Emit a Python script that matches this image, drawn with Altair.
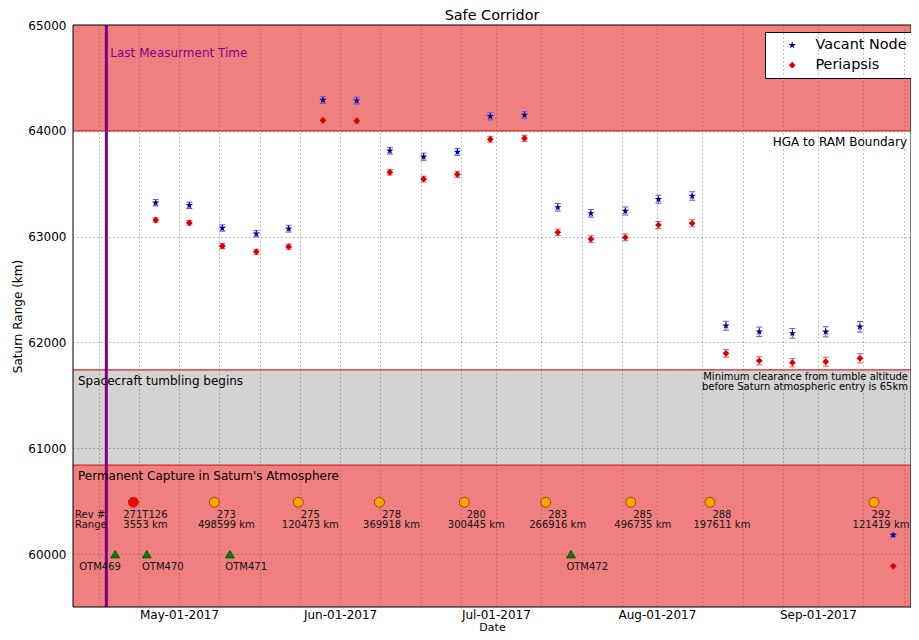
import altair as alt
import pandas as pd

W, H = 838, 582
FONT = "DejaVu Sans"
STAR = ("M0,-1L0.2245,-0.309L0.9511,-0.309L0.3633,0.118L0.5878,0.809L0,0.382"
        "L-0.5878,0.809L-0.3633,0.118L-0.9511,-0.309L-0.2245,-0.309Z")

# ---------------- data ----------------
x_start = "2017-04-10T14:00"
x_end = "2017-09-18T22:00"
last_measurement = "2017-04-17T00:00"

pass_dates = ["2017-04-26T12:00", "2017-05-02T23:30", "2017-05-09T08:00", "2017-05-15T21:00",
              "2017-05-22T02:30", "2017-05-28T17:00", "2017-06-04T05:00", "2017-06-10T14:00",
              "2017-06-17T02:00", "2017-06-23T14:00", "2017-06-29T22:00", "2017-07-06T12:00",
              "2017-07-12T22:00", "2017-07-19T07:00", "2017-07-25T22:00", "2017-08-01T07:00",
              "2017-08-07T19:00", "2017-08-14T07:00", "2017-08-20T17:00", "2017-08-27T02:00",
              "2017-09-02T12:00", "2017-09-09T02:00", "2017-09-15T12:00"]
vacant_node = [63320, 63296, 63081, 63027, 63075, 64291, 64285, 63812, 63755, 63800, 64137, 64149,
               63277, 63220, 63242, 63353, 63384, 62158, 62101, 62086, 62101, 62148, 60180]
periapsis = [63157, 63131, 62911, 62857, 62905, 64099, 64093, 63608, 63544, 63589, 63920, 63929,
             63041, 62977, 62993, 63110, 63126, 61897, 61827, 61809, 61818, 61850, 59887]
vacant_err = [30, 30, 30, 30, 32, 32, 32, 32, 34, 34, 34, 34, 36, 36, 38, 38, 40, 42, 44, 46, 48, 50, 10]
periapsis_err = [22, 22, 24, 24, 24, 25, 25, 26, 27, 28, 28, 29, 30, 31, 32, 33, 34, 36, 38, 40, 42, 44, 8]

rev_dates = ["2017-04-22T05:00", "2017-05-07T19:00", "2017-05-23T23:00", "2017-06-08T14:00",
             "2017-06-24T22:00", "2017-07-10T14:00", "2017-07-26T23:00", "2017-08-11T05:00",
             "2017-09-11T19:00"]
rev_labels = ["271T126", "273", "275", "278", "280", "283", "285", "288", "292"]
rev_ranges = ["3553 km", "498599 km", "120473 km", "369918 km", "300445 km", "266916 km",
              "496735 km", "197611 km", "121419 km"]
rev_fill = ["#ff0000", "#ffa500", "#ffa500", "#ffa500", "#ffa500", "#ffa500", "#ffa500",
            "#ffa500", "#ffa500"]
rev_marker_y = 60490
rev_label_y = 60370
rev_range_y = 60275

otm_dates = ["2017-04-18T17:00", "2017-04-24T19:00", "2017-05-10T19:00", "2017-07-15T11:00"]
otm_label_dates = ["2017-04-15T19:00", "2017-04-27T21:00", "2017-05-13T22:00", "2017-07-18T14:00"]
otm_labels = ["OTM469", "OTM470", "OTM471", "OTM472"]
otm_y = 60000
otm_label_y = 59877

band_lo = [64000, 60840, 59500]
band_hi = [65000, 61740, 60840]
band_fill = ["#f08080", "#d3d3d3", "#f08080"]
boundary_lines = [64000, 61740, 60840]

y_ticks = [60000, 61000, 62000, 63000, 64000, 65000]
# (month, day, hour) of the grid / tick positions; labels only on month starts
x_ticks = [(4, 15, 12), (4, 23, 6), (5, 1, 0), (5, 8, 18), (5, 16, 12), (5, 24, 6), (6, 1, 0),
           (6, 8, 18), (6, 16, 12), (6, 24, 6), (7, 1, 0), (7, 9, 18), (7, 17, 12), (7, 25, 6),
           (8, 1, 0), (8, 9, 18), (8, 17, 12), (8, 25, 6), (9, 1, 0), (9, 9, 18), (9, 17, 12)]

# ---------------- frames ----------------
series = pd.DataFrame({
    "date": pass_dates * 2,
    "series": ["Vacant Node"] * len(pass_dates) + ["Periapsis"] * len(pass_dates),
    "value": vacant_node + periapsis,
    "err": vacant_err + periapsis_err,
})
series["lo"] = series["value"] - series["err"]
series["hi"] = series["value"] + series["err"]
series["ecolor"] = ["#5a5aff"] * len(pass_dates) + ["#ff5050"] * len(pass_dates)
caps = pd.concat([
    series[["date", "lo", "ecolor"]].rename(columns={"lo": "v"}),
    series[["date", "hi", "ecolor"]].rename(columns={"hi": "v"}),
])

bands_df = pd.DataFrame({"lo": band_lo, "hi": band_hi, "fill": band_fill})
lines_df = pd.DataFrame({"v": boundary_lines})
revs = pd.DataFrame({"date": rev_dates, "label": rev_labels, "range": rev_ranges, "fill": rev_fill,
                     "y": [rev_marker_y] * len(rev_dates), "ly": [rev_label_y] * len(rev_dates),
                     "ry": [rev_range_y] * len(rev_dates)})
revs_main = revs.iloc[:-1]
revs_last = revs.iloc[-1:]
otm = pd.DataFrame({"date": otm_dates, "y": [otm_y] * len(otm_dates)})
otm_txt = pd.DataFrame({"date": otm_label_dates, "label": otm_labels,
                        "y": [otm_label_y] * len(otm_labels)})

left_ann = pd.DataFrame({
    "date": [x_start, x_start, x_start, x_start],
    "y": [61635, 60737, rev_label_y, rev_range_y],
    "text": ["Spacecraft tumbling begins", "Permanent Capture in Saturn's Atmosphere", "Rev #", "Range"],
    "size": [12, 12, 10, 10],
})
right_big = pd.DataFrame({"date": [x_end], "y": [63894], "text": ["HGA to RAM Boundary"]})
right_small = pd.DataFrame({"date": [x_end, x_end], "y": [61673, 61578],
                            "text": ["Minimum clearance from tumble altitude",
                                     "before Saturn atmospheric entry is 65km"]})
purple_df = pd.DataFrame({"date": [last_measurement], "y": [64735], "text": ["Last Measurment Time"]})

# ---------------- scales / axes ----------------
xscale = alt.Scale(domain=[alt.DateTime(year=2017, month=4, date=10, hours=14),
                           alt.DateTime(year=2017, month=9, date=18, hours=22)])
yscale = alt.Scale(domain=[59500, 65000], nice=False, zero=False)

xaxis = alt.Axis(
    values=[alt.DateTime(year=2017, month=m, date=d, hours=h) for (m, d, h) in x_ticks],
    labelExpr="date(datum.value) == 1 && hours(datum.value) == 0 ? timeFormat(datum.value, '%b-%d-%Y') : ''",
    labelOverlap=False, labelFlush=False, ticks=False, domain=False,
    grid=True, gridDash=[1, 3], gridColor="#555555", gridWidth=0.8, gridOpacity=0.9,
    labelFontSize=12, labelColor="black", labelPadding=2, labelFont=FONT,
    titleFontSize=11, titleFontWeight="normal", titleColor="black", titlePadding=1, titleFont=FONT,
    zindex=1,
)
yaxis = alt.Axis(
    values=y_ticks, format="d", ticks=False, domain=False,
    grid=True, gridDash=[1, 3], gridColor="#555555", gridWidth=0.8, gridOpacity=0.9,
    labelFontSize=12, labelColor="black", labelPadding=7, labelFont=FONT,
    titleFontSize=12, titleFontWeight="normal", titleColor="black", titlePadding=3, titleFont=FONT,
    zindex=1,
)


def X(field):
    return alt.X(field, type="temporal", scale=xscale, axis=xaxis, title="Date")


def Y(field):
    return alt.Y(field, type="quantitative", scale=yscale, axis=yaxis, title="Saturn Range (km)")


# ---------------- layers ----------------
bands = alt.Chart(bands_df).mark_rect().encode(
    x=alt.value(0), x2=alt.value(W), y=Y("lo"), y2="hi", fill=alt.Fill("fill:N", scale=None))

lines = alt.Chart(lines_df).mark_rule(color="#e02020", strokeWidth=1.2).encode(
    x=alt.value(0), x2=alt.value(W), y=Y("v"))

purple = alt.Chart(purple_df).mark_rule(color="#800080", strokeWidth=3).encode(x=X("date"))

ebars = alt.Chart(series).mark_rule(strokeWidth=1).encode(
    x=X("date"), y=Y("lo"), y2="hi", stroke=alt.Stroke("ecolor:N", scale=None))

ecaps = alt.Chart(caps).mark_rule(strokeWidth=1, xOffset=-3, x2Offset=3).encode(
    x=X("date"), x2="date", y=Y("v"), stroke=alt.Stroke("ecolor:N", scale=None))

dom = ["Vacant Node", "Periapsis"]
leg = alt.Legend(title=None, orient="none", legendX=692, legendY=7, fillColor="white",
                 strokeColor="black", padding=6, labelFontSize=14.4, labelFont=FONT,
                 labelColor="black", symbolSize=70, rowPadding=5, symbolOffset=14, labelOffset=16,
                 symbolStrokeWidth=0)
points = alt.Chart(series).mark_point(filled=True, opacity=1).encode(
    x=X("date"), y=Y("value"),
    color=alt.Color("series:N", scale=alt.Scale(domain=dom, range=["#00008b", "#d40000"]), legend=leg),
    shape=alt.Shape("series:N", scale=alt.Scale(domain=dom, range=[STAR, "diamond"]), legend=leg),
    size=alt.Size("series:N", scale=alt.Scale(domain=dom, range=[60, 45]), legend=None),
)

rev_pts = alt.Chart(revs).mark_point(filled=True, size=100, opacity=1, stroke="#7a3a00",
                                     strokeWidth=0.8, shape="circle").encode(
    x=X("date"), y=Y("y"), fill=alt.Fill("fill:N", scale=None))

otm_pts = alt.Chart(otm).mark_point(filled=True, size=80, opacity=1, shape="triangle-up",
                                    color="#008000", stroke="#003300", strokeWidth=0.6).encode(
    x=X("date"), y=Y("y"))


def rev_text(df, dx):
    a = alt.Chart(df).mark_text(dx=dx, fontSize=10, font=FONT, color="#111111",
                                align="center", baseline="middle").encode(
        x=X("date"), y=Y("ly"), text="label:N")
    b = alt.Chart(df).mark_text(dx=dx, fontSize=10, font=FONT, color="#111111",
                                align="center", baseline="middle").encode(
        x=X("date"), y=Y("ry"), text="range:N")
    return [a, b]


rev_txt_layers = rev_text(revs_main, 12) + rev_text(revs_last, 7)

otm_lbl = alt.Chart(otm_txt).mark_text(fontSize=10, font=FONT, color="#111111",
                                       align="center", baseline="middle").encode(
    x=X("date"), y=Y("y"), text="label:N")

left_big = alt.Chart(left_ann[left_ann["size"] == 12]).mark_text(
    dx=5, fontSize=12, font=FONT, color="black", align="left", baseline="middle").encode(
    x=X("date"), y=Y("y"), text="text:N")
left_small = alt.Chart(left_ann[left_ann["size"] == 10]).mark_text(
    dx=2, fontSize=10, font=FONT, color="#111111", align="left", baseline="middle").encode(
    x=X("date"), y=Y("y"), text="text:N")

rbig = alt.Chart(right_big).mark_text(dx=-4, fontSize=12, font=FONT, color="black",
                                      align="right", baseline="middle").encode(
    x=X("date"), y=Y("y"), text="text:N")
rsmall = alt.Chart(right_small).mark_text(dx=-3, fontSize=10, font=FONT, color="black",
                                          align="right", baseline="middle").encode(
    x=X("date"), y=Y("y"), text="text:N")

ptxt = alt.Chart(purple_df).mark_text(dx=4, fontSize=12, font=FONT, color="#800080",
                                      align="left", baseline="middle").encode(
    x=X("date"), y=Y("y"), text="text:N")

frame = alt.Chart(alt.Data(values=[{}])).mark_rect(fillOpacity=0, stroke="black", strokeWidth=1).encode(
    x=alt.value(0), x2=alt.value(W), y=alt.value(0), y2=alt.value(H))

chart = alt.layer(
    bands, lines, purple, ebars, ecaps, points, rev_pts, otm_pts, *rev_txt_layers, otm_lbl,
    left_big, left_small, rbig, rsmall, ptxt, frame,
).properties(
    width=W, height=H,
    title=alt.TitleParams("Safe Corridor", fontSize=14.4, fontWeight="normal", font=FONT,
                          color="black", anchor="middle", offset=-4, frame="group"),
    autosize=alt.AutoSizeParams(type="none"),
    padding={"left": 65, "top": 17, "right": 0, "bottom": 25},
).configure(font=FONT).configure_view(stroke=None)

chart.save("out.html", embed_options={"renderer": "svg", "actions": False})
